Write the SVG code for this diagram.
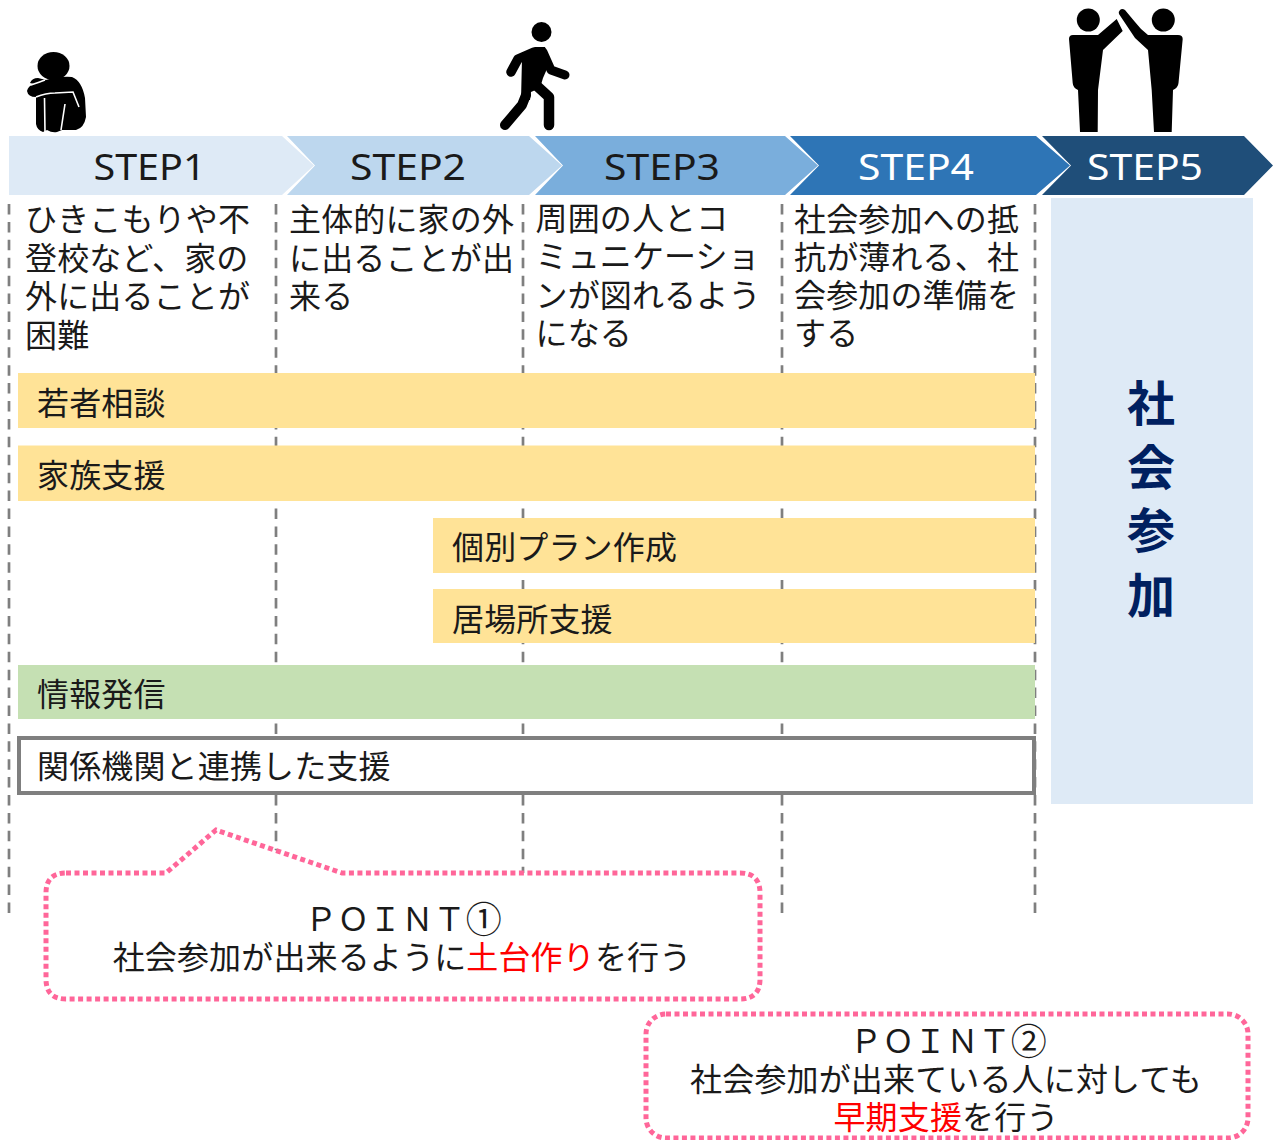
<svg xmlns="http://www.w3.org/2000/svg" width="1274" height="1140" viewBox="0 0 1274 1140">
<style>
text{font-family:"Noto Sans CJK JP","Noto Sans",sans-serif;font-size:32px;fill:#1a1a1a;letter-spacing:.15px}
.st{font-family:"Noto Sans","Noto Sans CJK JP",sans-serif;font-size:36px;text-anchor:middle;letter-spacing:0}
.w{fill:#fff}
.y{fill:#ffe397}
.dash{stroke:#7f7f7f;stroke-width:2.7;stroke-dasharray:10.500 7.410;fill:none}
.pt{fill:#fff;stroke:#ff6699;stroke-width:5;stroke-dasharray:5 3.500}
.m{text-anchor:middle}
.r{fill:#ff0000}
.big{font-size:48px;font-weight:700;fill:#002060;text-anchor:middle}
.circ{font-size:36px}
.cut{fill:none;stroke:#fff;stroke-width:1.600}
.lb{fill:none;stroke:#000;stroke-linecap:round;stroke-linejoin:round}
</style>
<rect width="1274" height="1140" fill="#fff"/>
<g id="connectors">
<path class="dash" d="M9 204V913M276 204V913M523 204V913M782 204V913M1035 204V913"/>
</g>
<g id="icon-sitting" fill="#000">
<ellipse cx="53.500" cy="66" rx="16" ry="14"/>
<path d="M27 91Q28 86 34 84L30 83Q32 78 38 78L46 80Q60 76 72 77Q82 81 85 98L86 117Q84 128 76 130L62 130L57 132Q52 133 47 130L43 132Q37 130 36 124L36 97Q28 97 27 91Z"/>
<path class="cut" d="M36 97Q46 93 55 93L73 92L79 107M44.500 98L45 132M65 104L61 130M31 85Q40 82 45 80"/>
</g>
<g id="icon-walking">
<ellipse cx="541.500" cy="32" rx="10" ry="10" fill="#000"/>
<path d="M522 58L535 47L545 47L550 62L543 78L540 88L531 92L530 100L521 100Z" fill="#000"/>
<path class="lb" stroke-width="9.500" d="M534 52L518 59L511 72"/>
<path class="lb" stroke-width="9" d="M543 52L551 70L565 75"/>
<path class="lb" stroke-width="10" d="M526 95L522 105L505 125"/>
<path class="lb" stroke-width="10.500" d="M537 86L549 97L549 125"/>
</g>
<g id="icon-highfive" fill="#000">
<circle cx="1088.300" cy="20" r="11.500"/><circle cx="1163.300" cy="20" r="11.500"/>
<path d="M1073 35H1098L1116.700 19L1122.700 31L1103 50L1098 90L1097.700 132H1080L1078 90Q1073 88 1072.700 83L1069 39Q1069 35 1073 35Z"/>
<path d="M1178 35H1148Q1141 30 1135 22L1125 10Q1122 8 1120 10Q1118 12 1119 14L1135 38L1148 50L1151.700 90L1154 132H1171.700L1173 90Q1178 88 1178.500 83L1182.700 39Q1182.700 35 1178 35Z"/>
</g>
<g id="step1"><path fill="#deeaf6" d="M9 136H282L314 165.500L282 195H9Z"/><text class="st" x="149.500" y="180" textLength="112" lengthAdjust="spacingAndGlyphs">STEP1</text></g>
<g id="step2"><path fill="#bdd7ee" d="M287 136H529L562 165.500L529 195H287L315 165.500Z"/><text class="st" x="408" y="180" textLength="116" lengthAdjust="spacingAndGlyphs">STEP2</text></g>
<g id="step3"><path fill="#7aaedc" d="M535 136H785L818 165.500L785 195H535L563 165.500Z"/><text class="st" x="662" y="180" textLength="116" lengthAdjust="spacingAndGlyphs">STEP3</text></g>
<g id="step4"><path fill="#2e75b6" d="M790 136H1036L1070 165.500L1036 195H790L819 165.500Z"/><text class="st w" x="916" y="180" textLength="116" lengthAdjust="spacingAndGlyphs">STEP4</text></g>
<g id="step5"><path fill="#1f4e79" d="M1042 136H1244L1273 165.500L1244 195H1042L1071 165.500Z"/><text class="st w" x="1145" y="180" textLength="116" lengthAdjust="spacingAndGlyphs">STEP5</text></g>
<g id="desc1"><text x="25" y="231">ひきこもりや不</text><text x="25" y="270">登校など、家の</text><text x="25" y="308">外に出ることが</text><text x="25" y="347">困難</text></g>
<g id="desc2"><text x="289" y="231">主体的に家の外</text><text x="289" y="270">に出ることが出</text><text x="289" y="308">来る</text></g>
<g id="desc3"><text x="535.500" y="230">周囲の人とコ</text><text x="535.500" y="268">ミュニケーショ</text><text x="535.500" y="306.500">ンが図れるよう</text><text x="535.500" y="345">になる</text></g>
<g id="desc4"><text x="794" y="230.500">社会参加への抵</text><text x="794" y="268.500">抗が薄れる、社</text><text x="794" y="307">会参加の準備を</text><text x="794" y="345">する</text></g>
<g id="panel5"><rect x="1051" y="198" width="202" height="606" fill="#deeaf6"/>
<text class="big" x="1151" y="420.500">社</text><text class="big" x="1151" y="484.500">会</text><text class="big" x="1151" y="547.500">参</text><text class="big" x="1151" y="612.500">加</text></g>
<g id="bar1"><rect class="y" x="18" y="373" width="1017" height="55"/><text x="37" y="415">若者相談</text></g>
<g id="bar2"><rect class="y" x="18" y="445.500" width="1017" height="55.500"/><text x="37" y="487">家族支援</text></g>
<g id="bar3"><rect class="y" x="433" y="518" width="602" height="55"/><text x="452" y="559">個別プラン作成</text></g>
<g id="bar4"><rect class="y" x="433" y="589" width="602" height="54"/><text x="452" y="631">居場所支援</text></g>
<g id="bar5"><rect fill="#c5e0b3" x="18" y="665" width="1017" height="54"/><text x="37" y="706">情報発信</text></g>
<g id="bar6"><rect x="19" y="738" width="1015" height="55" fill="#fff" stroke="#7f7f7f" stroke-width="4"/><text x="37" y="778">関係機関と連携した支援</text></g>
<g id="point1"><path class="pt" d="M66 873H166L216 830L342 873H740Q760 873 760 893V979Q760 999 740 999H66Q46 999 46 979V893Q46 873 66 873Z"/>
<text x="305" y="931">ＰＯＩＮＴ<tspan class="circ" dy="1.500">①</tspan></text><text class="m" x="402" y="969">社会参加が出来るように<tspan class="r">土台作り</tspan>を行う</text></g>
<g id="point2"><rect class="pt" x="646" y="1014" width="602" height="124" rx="20"/>
<text x="850" y="1053">ＰＯＩＮＴ<tspan class="circ" dy="1.500">②</tspan></text><text class="m" x="946" y="1091">社会参加が出来ている人に対しても</text><text class="m" x="946" y="1129"><tspan class="r">早期支援</tspan>を行う</text></g>
</svg>
